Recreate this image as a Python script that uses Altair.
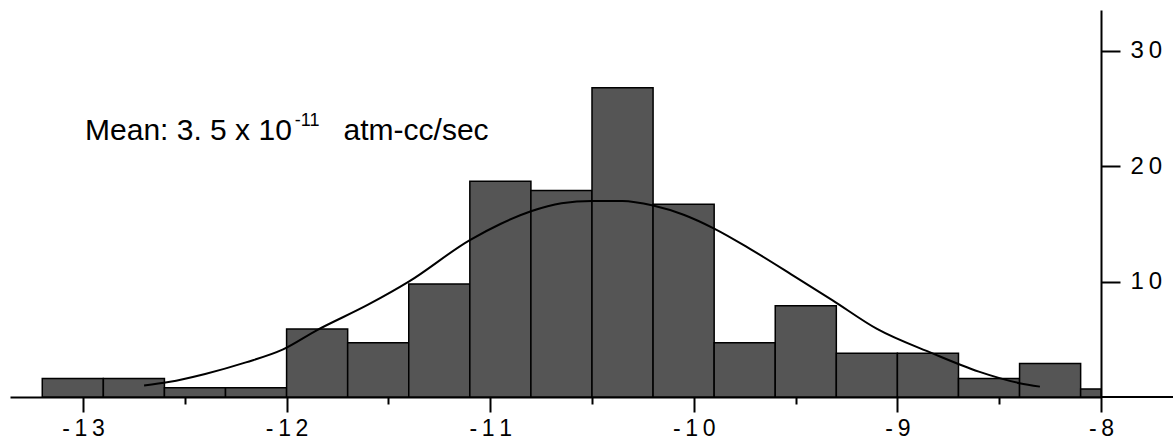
import altair as alt
import pandas as pd

# Histogram bins (log10 leak rate) and bar heights
bin_start = [-13.2, -12.9, -12.6, -12.3, -12.0, -11.7, -11.4, -11.1, -10.8,
             -10.5, -10.2, -9.9, -9.6, -9.3, -9.0, -8.7, -8.4, -8.1]
bin_end = [-12.9, -12.6, -12.3, -12.0, -11.7, -11.4, -11.1, -10.8, -10.5,
           -10.2, -9.9, -9.6, -9.3, -9.0, -8.7, -8.4, -8.1, -8.0]
heights = [1.6, 1.6, 0.8, 0.8, 5.9, 4.7, 9.8, 18.7, 17.9,
           26.8, 16.7, 4.7, 7.9, 3.8, 3.8, 1.6, 2.9, 0.7]

# Fitted curve, points
curve_x = [-12.7, -12.58, -12.4, -12.2, -12.02, -11.85, -11.6, -11.4, -11.1,
           -10.95, -10.8, -10.65, -10.5, -10.35, -10.2, -10.05, -9.9, -9.72,
           -9.5, -9.32, -9.1, -8.83, -8.6, -8.4, -8.3]
curve_y = [1.0, 1.3, 2.0, 3.0, 4.1, 5.8, 8.0, 10.0, 13.6,
           15.0, 16.1, 16.8, 17.0, 17.0, 16.6, 15.8, 14.6, 12.8,
           10.4, 8.4, 5.9, 3.8, 2.2, 1.2, 0.9]

x_ticks = [-13, -12.5, -12, -11.5, -11, -10.5, -10, -9.5, -9, -8.5, -8]
y_ticks = [10, 20, 30]
x_domain = [-13.3585, -8.0]
x_baseline_end = -7.6464
y_domain = [0, 33.55]

note_main = "Mean: 3. 5 x 10"
note_sup = "-11"
note_unit = "atm-cc/sec"

FONT = "Liberation Sans"
TS = "\u2009"

bars = pd.DataFrame({"x": bin_start, "x2": bin_end, "h": heights})
curve = pd.DataFrame({"x": curve_x, "y": curve_y})

xscale = alt.Scale(domain=x_domain, nice=False, zero=False)
yscale = alt.Scale(domain=y_domain, nice=False, zero=False)

x_axis = alt.Axis(
    values=x_ticks,
    labelExpr=("datum.value % 1 == 0 ? '-" + TS + "' + join(split(toString(-datum.value), ''), '" + TS + "') : ''"),
    tickSize={"condition": {"test": "datum.value % 1 == 0", "value": 15}, "value": 7},
    tickWidth=2, tickColor="black",
    domainColor="black", domainWidth=2,
    labelFont=FONT, labelFontSize=23, labelColor="black", labelPadding=5,
    labelFlush=False, labelOverlap=False, grid=False, title=None,
)
y_axis = alt.Axis(
    orient="right",
    values=y_ticks,
    labelExpr="join(split(datum.label, ''), '" + TS + "')",
    tickSize=19, tickWidth=2, tickColor="black",
    domainColor="black", domainWidth=2,
    labelFont=FONT, labelFontSize=24, labelColor="black", labelPadding=10,
    grid=False, title=None,
)

bar_layer = alt.Chart(bars).mark_rect(
    fill="#555555", stroke="black", strokeWidth=1.5
).encode(
    x=alt.X("x:Q", scale=xscale, axis=x_axis),
    x2="x2:Q",
    y=alt.Y("h:Q", scale=yscale, axis=y_axis),
    y2=alt.datum(0),
)

line_layer = alt.Chart(curve).mark_line(
    color="black", strokeWidth=2, interpolate="monotone"
).encode(
    x=alt.X("x:Q", scale=xscale),
    y=alt.Y("y:Q", scale=yscale),
)

# baseline continues to the right of the y axis
base_ext = alt.Chart(pd.DataFrame({"a": [x_domain[1]], "b": [x_baseline_end]})).mark_rule(
    color="black", strokeWidth=2
).encode(
    x=alt.X("a:Q", scale=xscale),
    x2="b:Q",
    y=alt.datum(0),
)

txt = pd.DataFrame({
    "x": [-12.99, -11.96, -11.72],
    "y": [22.3, 23.5, 22.3],
    "t": [note_main, note_sup, note_unit],
    "s": [30, 18, 30],
})
text_layer = alt.Chart(txt).mark_text(
    align="left", baseline="alphabetic", font=FONT, color="black"
).encode(
    x=alt.X("x:Q", scale=xscale),
    y=alt.Y("y:Q", scale=yscale),
    text="t:N",
    size=alt.Size("s:Q", scale=None, legend=None),
)

chart = alt.layer(bar_layer, line_layer, base_ext, text_layer).properties(
    width=1091, height=387,
    autosize=alt.AutoSizeParams(type="none"),
    padding={"left": 10, "top": 10, "right": 72, "bottom": 50},
    background="white",
).configure_view(strokeWidth=0)

chart.save("out.html", embed_options={"renderer": "svg", "actions": False})
